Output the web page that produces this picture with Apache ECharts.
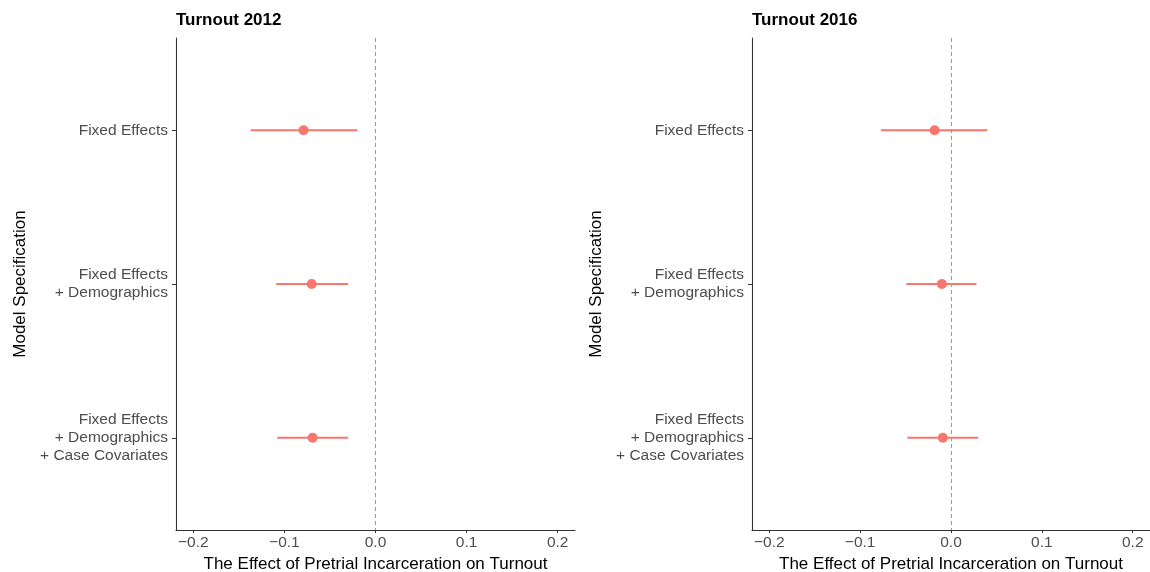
<!DOCTYPE html>
<html>
<head>
<meta charset="utf-8">
<script src="https://cdn.jsdelivr.net/npm/echarts@6/dist/echarts.min.js"></script>
<style>
  html, body { margin: 0; padding: 0; background: #fff; }
  #chart { width: 1150px; height: 572px; }
</style>
</head>
<body>
<div id="chart"></div>
<script>
// model specifications, top to bottom
const specs = ["Fixed Effects", "Fixed Effects\n+ Demographics", "Fixed Effects\n+ Demographics\n+ Case Covariates"];
const panelTitles = ["Turnout 2012", "Turnout 2016"];

// point estimates and confidence bounds
const est2012 = [-0.079, -0.070, -0.069];
const lo2012 = [-0.137, -0.109, -0.108];
const hi2012 = [-0.020, -0.030, -0.030];

const est2016 = [-0.018, -0.010, -0.009];
const lo2016 = [-0.077, -0.049, -0.048];
const hi2016 = [0.040, 0.028, 0.030];

const xTicks = [-0.2, -0.1, 0, 0.1, 0.2];

const red = "#F8766D";
const font = "Liberation Sans, Arial, sans-serif";

const chart = echarts.init(document.getElementById("chart"));

const grids = [
    {left: 176, top: 38, width: 399, height: 492, outerBoundsMode: "none"},
    {left: 752, top: 38, width: 398, height: 492, outerBoundsMode: "none"}
];

function xAxisFor(i) {
    return {
        type: "value", gridIndex: i, min: -0.219, max: 0.219,
        name: "The Effect of Pretrial Incarceration on Turnout",
        nameLocation: "middle", nameGap: 21,
        nameTextStyle: {color: "#000", fontSize: 17, fontFamily: font},
        axisLine: {onZero: false, lineStyle: {color: "#333", width: 1.1}},
        axisTick: {show: true, length: 3, lineStyle: {color: "#333"}, customValues: xTicks},
        axisLabel: {
            color: "#4d4d4d", fontSize: 15.5, fontFamily: font, margin: 5,
            customValues: xTicks,
            formatter: v => (v < 0 ? "\u2212" : "") + Math.abs(v).toFixed(1)
        },
        splitLine: {show: false}
    };
}

function yAxisFor(i) {
    return {
        type: "value", gridIndex: i, min: 0.4, max: 3.6, inverse: true,
        name: "Model Specification",
        nameLocation: "middle", nameGap: 147, nameRotate: 90,
        nameTextStyle: {color: "#000", fontSize: 17, fontFamily: font},
        axisLine: {show: true, onZero: false, lineStyle: {color: "#333", width: 1.1}},
        axisTick: {show: true, length: 4, lineStyle: {color: "#333"}, customValues: [1, 2, 3]},
        axisLabel: {
            color: "#4d4d4d", fontSize: 15.5, fontFamily: font, margin: 8, lineHeight: 18,
            align: "right",
            customValues: [1, 2, 3],
            formatter: v => specs[Math.round(v) - 1]
        },
        splitLine: {show: false}
    };
}

function barSeries(i, lo, hi) {
    return {
        type: "custom", xAxisIndex: i, yAxisIndex: i,
        data: lo.map((l, k) => [l, hi[k], k + 1]),
        renderItem: (params, api) => {
            const a = api.coord([api.value(0), api.value(2)]);
            const b = api.coord([api.value(1), api.value(2)]);
            return {
                type: "line",
                shape: {x1: a[0], y1: a[1], x2: b[0], y2: b[1]},
                style: {stroke: red, lineWidth: 2}
            };
        },
        z: 3
    };
}

function pointSeries(i, est) {
    return {
        type: "scatter", xAxisIndex: i, yAxisIndex: i,
        data: est.map((e, k) => [e, k + 1]),
        symbolSize: 10,
        itemStyle: {color: red, opacity: 1},
        z: 4,
        markLine: {
            silent: true, symbol: "none",
            label: {show: false},
            lineStyle: {color: "#999", type: [4, 3], width: 1},
            data: [{xAxis: 0}],
            z: 1
        }
    };
}

chart.setOption({
    animation: false,
    textStyle: {fontFamily: font},
    title: panelTitles.map((t, i) => ({
        text: t, left: grids[i].left, top: 12, padding: 0,
        textStyle: {color: "#000", fontSize: 17, fontWeight: "bold", fontFamily: font}
    })),
    grid: grids,
    xAxis: [xAxisFor(0), xAxisFor(1)],
    yAxis: [yAxisFor(0), yAxisFor(1)],
    series: [
        barSeries(0, lo2012, hi2012),
        pointSeries(0, est2012),
        barSeries(1, lo2016, hi2016),
        pointSeries(1, est2016)
    ]
});
</script>
</body>
</html>
